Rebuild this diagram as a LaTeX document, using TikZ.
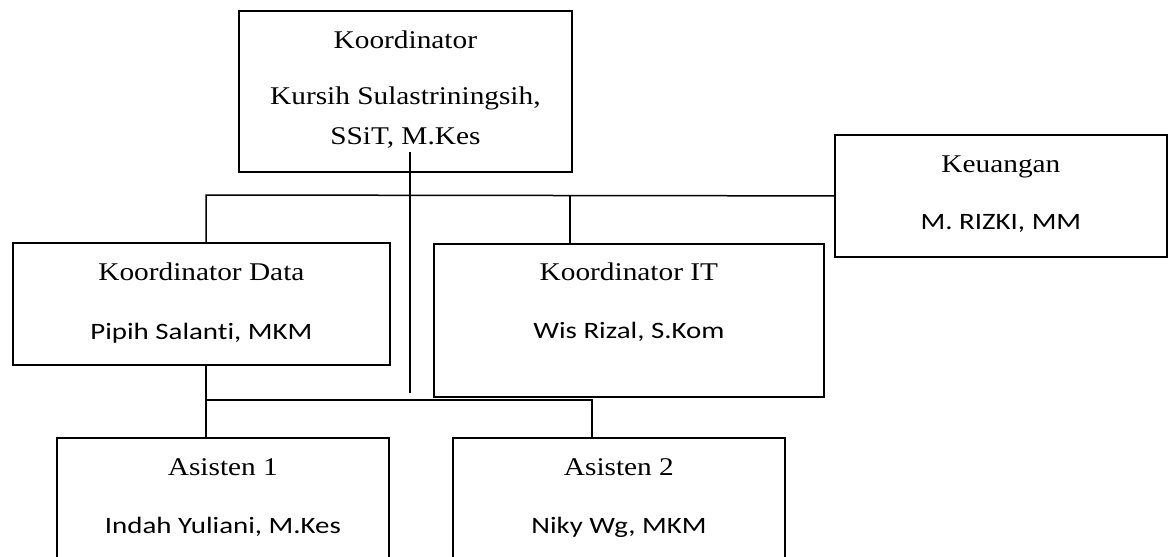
\documentclass[tikz,border=0pt]{standalone}
\usepackage{fontspec}
\usetikzlibrary{calc}
\newfontfamily\titlefont[FakeStretch=1.15]{Liberation Serif}
\newfontfamily\namefont[FakeStretch=1.23,Ligatures=NoCommon]{Carlito}
\tikzset{
  box/.style={draw, line width=1.8pt, rectangle, inner sep=0pt, anchor=north west},
  ttl/.style={anchor=base, inner sep=0pt, font=\titlefont\fontsize{25.5}{30}\selectfont},
  nme/.style={anchor=base, inner sep=0pt, font=\namefont\fontsize{23.5}{28}\selectfont},
  link/.style={line width=1.5pt}
}
\begin{document}
\begin{tikzpicture}[x=1pt,y=-1pt]
  \useasboundingbox (0,0) rectangle (1168,557);
  \clip (0,0) rectangle (1168,557);
  % boxes
  \node[box, minimum width=333pt, minimum height=161pt] (koord) at (238,10) {};
  \node[box, minimum width=377pt, minimum height=122pt] (kdata) at (12,242) {};
  \node[box, minimum width=390pt, minimum height=153pt] (kit) at (433,243) {};
  \node[box, minimum width=332pt, minimum height=122pt] (keu) at (834,134) {};
  \node[box, minimum width=332pt, minimum height=160pt] (as1) at (56,437) {};
  \node[box, minimum width=332pt, minimum height=160pt] (as2) at (452,437) {};
  % texts
  \node[ttl] (koordT) at ($(koord.north)+(0,38)$) {Koordinator};
  \node[ttl] (koordN) at ($(koord.north)+(0,94)$) {Kursih Sulastriningsih,};
  \node[ttl] (koordM) at ($(koord.north)+(0,134)$) {SSiT, M.Kes};
  \node[ttl] (kdataT) at ($(kdata.north)+(0,38)$) {Koordinator Data};
  \node[nme] (kdataN) at ($(kdata.north)+(0,97)$) {Pipih Salanti, MKM};
  \node[ttl] (kitT) at ($(kit.north)+(0,37)$) {Koordinator IT};
  \node[nme] (kitN) at ($(kit.north)+(0,95)$) {Wis Rizal, S.Kom};
  \node[ttl] (keuT) at ($(keu.north)+(0,38)$) {Keuangan};
  \node[nme] (keuN) at ($(keu.north)+(0,95)$) {M. RIZKI, MM};
  \node[ttl] (as1T) at ($(as1.north)+(0,38)$) {Asisten 1};
  \node[nme] (as1N) at ($(as1.north)+(0,96)$) {Indah Yuliani, M.Kes};
  \node[ttl] (as2T) at ($(as2.north)+(0,38)$) {Asisten 2};
  \node[nme] (as2N) at ($(as2.north)+(0,96)$) {Niky Wg, MKM};
  % lines
  \coordinate (kstart) at (410,152);
  \coordinate (kend) at (410,393);
  \coordinate (jd) at (206,195);
  \coordinate (ji) at (570,195);
  \coordinate (ja1) at (206,400);
  \coordinate (ja2) at (592,400);
  \draw[link] (kstart) -- (kend);
  \draw[link] (keu.west) -- (jd) -- (jd |- kdata.north);
  \draw[link] (ji) -- (ji |- kit.north);
  \draw[link] (ja1 |- kdata.south) -- (ja1) -- (ja1 |- as1.north);
  \draw[link] (ja1) -- (ja2) -- (ja2 |- as2.north);
\end{tikzpicture}
\end{document}
